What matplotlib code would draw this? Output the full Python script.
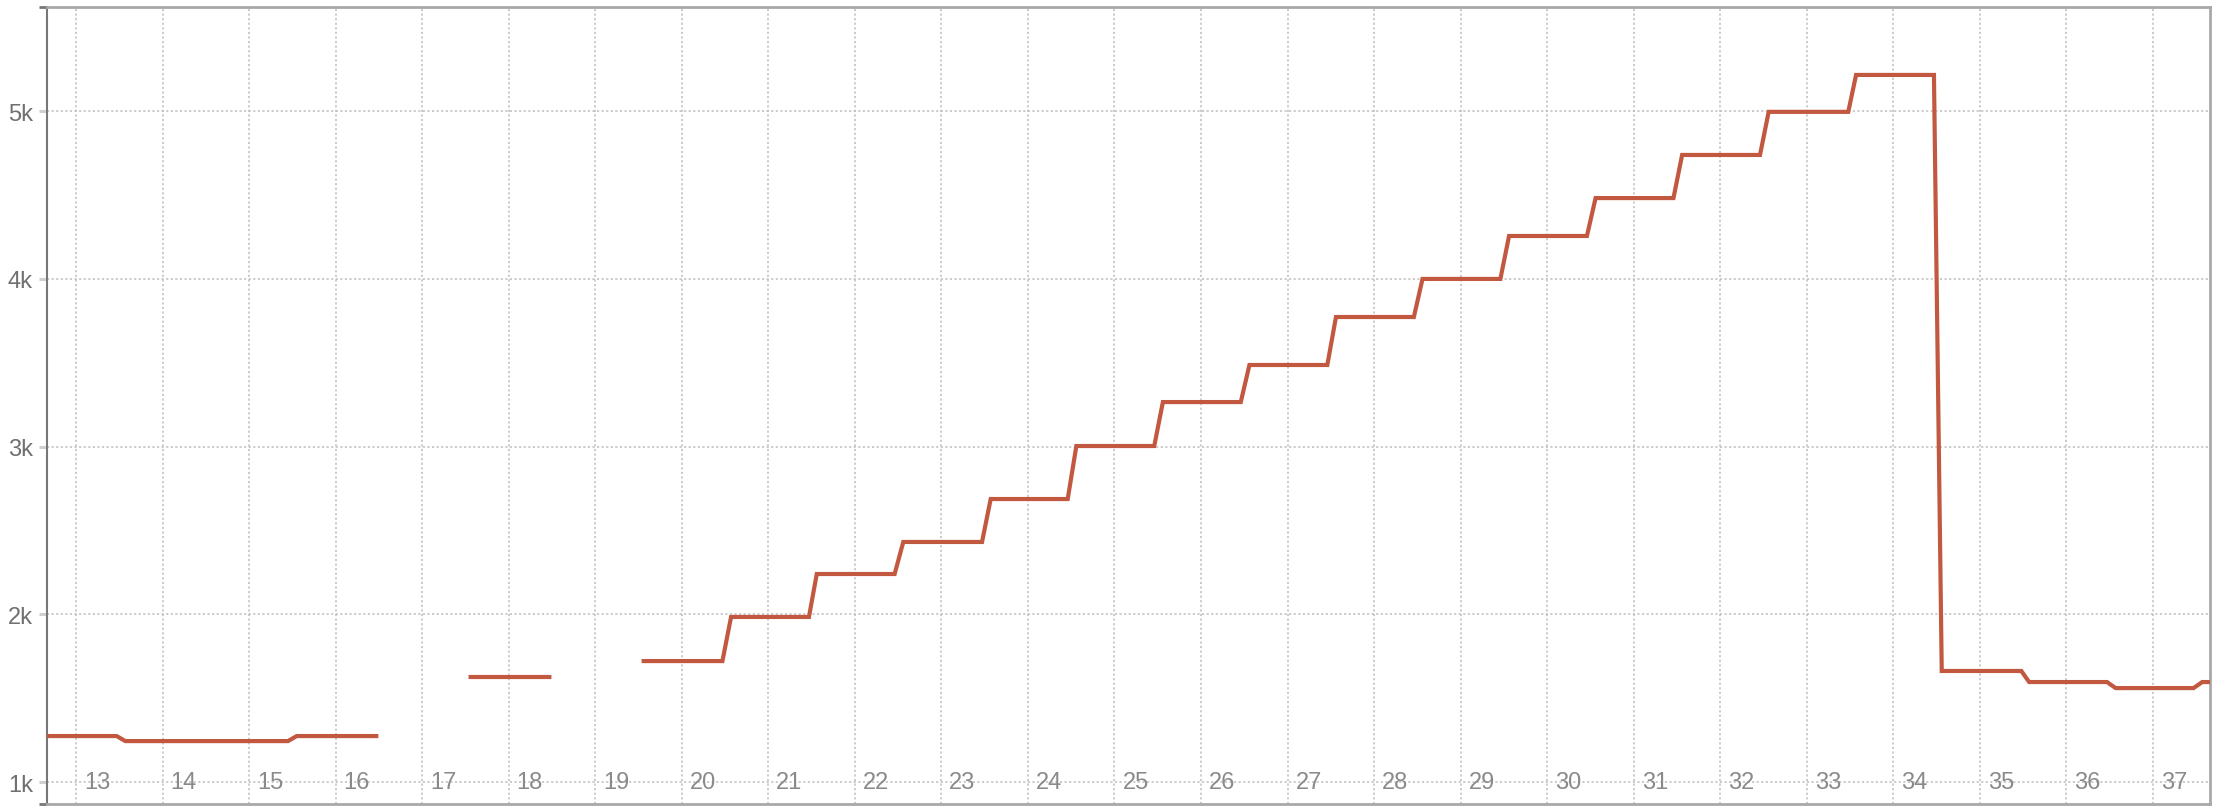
import numpy as np
import matplotlib
matplotlib.use("Agg")
import matplotlib.pyplot as plt
import matplotlib.transforms as mtransforms
from matplotlib.ticker import FuncFormatter

# week number vs value; NaN breaks the line where data is missing
week = [
    12.6, 13.47, 13.57, 15.45, 15.55, 16.47, np.nan,
    17.56, 18.47, np.nan,
    19.56, 20.47, 20.57, 21.47, 21.56, 22.46, 22.56, 23.47, 23.57, 24.46,
    24.56, 25.46, 25.56, 26.46, 26.56, 27.46, 27.56, 28.46, 28.56, 29.46,
    29.56, 30.46, 30.56, 31.46, 31.56, 32.46, 32.56, 33.48, 33.57, 34.47,
    34.56, 35.48, 35.57, 36.47, 36.57, 37.47, 37.57, 37.7,
]
value = [
    1274, 1274, 1244, 1244, 1274, 1274, np.nan,
    1626, 1626, np.nan,
    1721, 1721, 1984, 1984, 2240, 2240, 2431, 2431, 2687, 2687,
    3003, 3003, 3265, 3265, 3486, 3486, 3772, 3772, 3999, 3999,
    4255, 4255, 4481, 4481, 4738, 4738, 4995, 4995, 5215, 5215,
    1662, 1662, 1596, 1596, 1560, 1560, 1596, 1596,
]
week_ticks = list(range(13, 38))
y_ticks = [1000, 2000, 3000, 4000, 5000]

W, H = 2218, 812
fig = plt.figure(figsize=(W / 100, H / 100), dpi=100)
ax = fig.add_axes([47 / W, 7 / H, (2210 - 47) / W, (805 - 8) / H])

ax.plot(week, value, color="#c1583f", lw=3.0, solid_joinstyle="miter", zorder=3)

ax.set_xlim(12.665, 37.66)
ax.set_ylim(869, 5620)

grid_kw = dict(color="#bdbdbd", lw=1.1, dashes=(1.4, 1.6))
ax.set_xticks(week_ticks)
ax.set_xticklabels([])
ax.set_yticks(y_ticks)
ax.yaxis.set_major_formatter(FuncFormatter(lambda v, _: f"{v / 1000:.0f}k"))
ax.grid(True, **grid_kw)
ax.tick_params(axis="x", length=0)
ax.tick_params(axis="y", length=5.8, width=2.2, color="#d0d0d0", pad=4.3,
               labelsize=17, labelcolor="#707070")
for lab in ax.get_yticklabels():
    lab.set_fontfamily(["Liberation Sans", "DejaVu Sans"])

# end ticks of the left axis
ax.set_yticks([869, 5620], minor=True)
ax.tick_params(axis="y", which="minor", length=5.8, width=2, color="#777777")

# week labels sit inside the plot, just right of each gridline
offset = mtransforms.ScaledTranslation(8 / 100, 0, fig.dpi_scale_trans)
for w in week_ticks:
    ax.text(w, 1000, str(w), transform=ax.transData + offset, ha="left", va="center",
            fontsize=17, color="#8a8a8a", family=["Liberation Sans", "DejaVu Sans"],
            zorder=2)

ax.spines["left"].set_color("#777777")
ax.spines["left"].set_linewidth(1.5)
for side in ["top", "right", "bottom"]:
    ax.spines[side].set_color("#a8a8a8")
    ax.spines[side].set_linewidth(2.0)

fig.savefig("out.png", dpi=100)
